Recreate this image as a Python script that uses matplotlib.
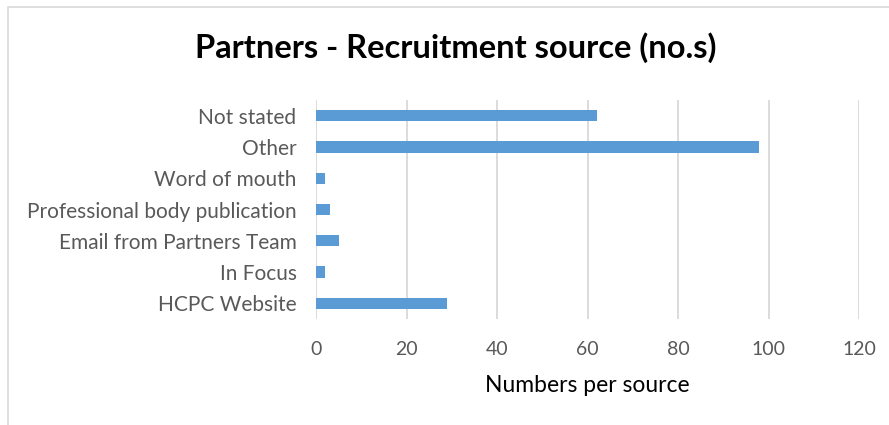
import matplotlib

matplotlib.use("Agg")
import matplotlib.pyplot as plt
from matplotlib.patches import Rectangle

categories = [
    "HCPC Website",
    "In Focus",
    "Email from Partners Team",
    "Professional body publication",
    "Word of mouth",
    "Other",
    "Not stated",
]
counts = [29, 2, 5, 3, 2, 98, 62]
x_ticks = [0, 20, 40, 60, 80, 100, 120]

title = "Partners - Recruitment source (no.s)"
x_label = "Numbers per source"

bar_color = "#5B9BD5"
grid_color = "#D9D9D9"
tick_color = "#595959"

plt.rcParams["font.family"] = ["Lato", "DejaVu Sans"]

fig = plt.figure(figsize=(8.89, 4.25), dpi=100)
ax = fig.add_axes([316 / 889, 1 - 319 / 425, (859 - 316) / 889, (319 - 100) / 425])

ax.barh(range(len(categories)), counts, height=0.36, color=bar_color, zorder=3)
ax.set_ylim(-0.5, len(categories) - 0.5)
ax.set_xlim(x_ticks[0], x_ticks[-1])
ax.set_xticks(x_ticks)
ax.set_yticks(range(len(categories)))
ax.set_yticklabels(categories)

ax.grid(axis="x", color=grid_color, linewidth=1.3, zorder=0)
for spine in ax.spines.values():
    spine.set_visible(False)
ax.tick_params(axis="both", length=0, colors=tick_color)
ax.tick_params(axis="x", pad=16, labelsize=14)
ax.tick_params(axis="y", pad=14, labelsize=15)

ax.set_xlabel(x_label, fontsize=16.5, color="black", labelpad=12)
fig.text(456 / 889, 1 - 48 / 425, title, ha="center", va="center",
         fontsize=23.5, fontweight="bold", color="black")

# chart area border (runs off the right and bottom edges)
fig.patches.append(Rectangle((8 / 889, -0.1), 1.2, 1.1 - 7 / 425, transform=fig.transFigure,
                             fill=False, edgecolor=grid_color, linewidth=1.2))

fig.savefig("out.png", dpi=100)
